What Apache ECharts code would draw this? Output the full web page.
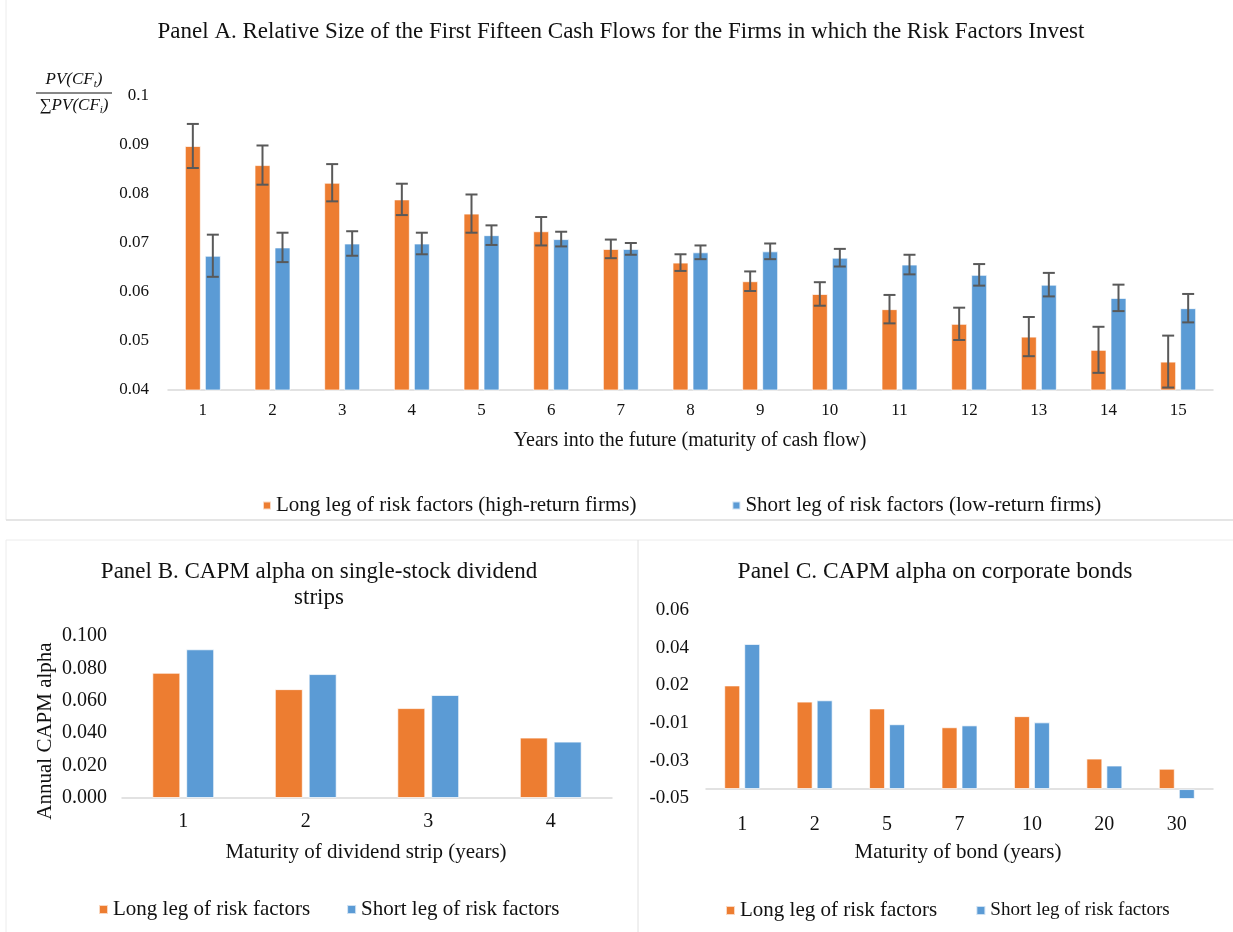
<!DOCTYPE html>
<html>
<head>
<meta charset="utf-8">
<script src="https://cdn.jsdelivr.net/npm/echarts@6/dist/echarts.min.js"></script>
<style>
html,body{margin:0;padding:0;background:#fff;}
#chart{width:1233px;height:932px;}
</style>
</head>
<body>
<div id="chart"></div>
<script>
// ---------- Panel A data ----------
const aCategories = ['1','2','3','4','5','6','7','8','9','10','11','12','13','14','15'];
const aLong = [0.0898,0.0859,0.0823,0.0789,0.0760,0.0724,0.0688,0.0660,0.0622,0.0596,0.0565,0.0535,0.0509,0.0482,0.0458];
const aLongErr = [0.0045,0.0040,0.0038,0.0032,0.0039,0.0029,0.0019,0.0017,0.0020,0.0024,0.0029,0.0033,0.0040,0.0047,0.0053];
const aShort = [0.0674,0.0691,0.0699,0.0699,0.0716,0.0708,0.0688,0.0681,0.0683,0.0670,0.0656,0.0635,0.0615,0.0588,0.0567];
const aShortErr = [0.0043,0.0030,0.0025,0.0022,0.0020,0.0015,0.0012,0.0014,0.0016,0.0018,0.0020,0.0022,0.0024,0.0027,0.0029];

// ---------- Panel B data ----------
const bCategories = ['1','2','3','4'];
const bLong = [0.0773,0.0672,0.0555,0.0373];
const bShort = [0.0918,0.0765,0.0636,0.0348];

// ---------- Panel C data ----------
const cCategories = ['1','2','5','7','10','20','30'];
const cLong = [0.0150,0.0064,0.0028,-0.0072,-0.0013,-0.0238,-0.0292];
const cShort = [0.0370,0.0071,-0.0056,-0.0062,-0.0046,-0.0275,-0.0460];
const cBase = -0.04; // horizontal axis crosses here (bars start from it)

const ORANGE = '#ED7D31';
const BLUE = '#5B9BD5';
const FONT = '"Liberation Serif", "Times New Roman", serif';
const TXT = '#111111';
const AXIS = '#d9d9d9';

function errRender(offset) {
  return function (params, api) {
    const i = api.value(0);
    const lo = api.coord([i, api.value(1)]);
    const hi = api.coord([i, api.value(2)]);
    const x = lo[0] + offset;
    const cap = 6;
    const st = { stroke: '#595959', lineWidth: 2 };
    return {
      type: 'group',
      children: [
        { type: 'line', shape: { x1: x, y1: lo[1], x2: x, y2: hi[1] }, style: st },
        { type: 'line', shape: { x1: x - cap, y1: lo[1], x2: x + cap, y2: lo[1] }, style: st },
        { type: 'line', shape: { x1: x - cap, y1: hi[1], x2: x + cap, y2: hi[1] }, style: st }
      ]
    };
  };
}

function cLabel(v) {
  const a = v + cBase;
  const r = Math.sign(a) * Math.round(Math.abs(a) * 100 + 1e-6) / 100;
  return r.toFixed(2);
}

const barBorder = { borderColor: 'rgba(255,255,255,0.7)', borderWidth: 1 };

const chart = echarts.init(document.getElementById('chart'), null, { renderer: 'canvas' });

const option = {
  backgroundColor: '#fff',
  animation: false,
  textStyle: { fontFamily: FONT, color: TXT },
  grid: [
    { left: 168, top: 96, width: 1045, height: 294 },
    { left: 122, top: 636, width: 490, height: 162 },
    { left: 706, top: 610, width: 507, height: 188.5 }
  ],
  xAxis: [
    { gridIndex: 0, type: 'category', data: aCategories,
      axisLine: { lineStyle: { color: AXIS, width: 1.5 } }, axisTick: { show: false },
      axisLabel: { color: TXT, fontFamily: FONT, fontSize: 17, margin: 12 } },
    { gridIndex: 1, type: 'category', data: bCategories,
      axisLine: { lineStyle: { color: AXIS, width: 1.5 } }, axisTick: { show: false },
      axisLabel: { color: TXT, fontFamily: FONT, fontSize: 20, margin: 14 } },
    { gridIndex: 2, type: 'category', data: cCategories,
      axisLine: { onZero: true, lineStyle: { color: AXIS, width: 1.5 } }, axisTick: { show: false },
      axisLabel: { color: TXT, fontFamily: FONT, fontSize: 20, margin: 16 } }
  ],
  yAxis: [
    { gridIndex: 0, type: 'value', min: 0.04, max: 0.1, interval: 0.01,
      splitLine: { show: false }, axisLine: { show: false }, axisTick: { show: false },
      axisLabel: { color: TXT, fontFamily: FONT, fontSize: 17, margin: 19,
        formatter: v => String(Math.round(v * 100) / 100) } },
    { gridIndex: 1, type: 'value', min: 0, max: 0.1, interval: 0.02,
      splitLine: { show: false }, axisLine: { show: false }, axisTick: { show: false },
      axisLabel: { color: TXT, fontFamily: FONT, fontSize: 20, margin: 15,
        formatter: v => v.toFixed(3) } },
    { gridIndex: 2, type: 'value', min: -0.045 - cBase, max: 0.055 - cBase, interval: 0.02,
      splitLine: { show: false }, axisLine: { show: false }, axisTick: { show: false },
      axisLabel: { color: TXT, fontFamily: FONT, fontSize: 19, margin: 17, formatter: cLabel } }
  ],
  legend: [
    { left: 257, top: 490, itemWidth: 8, itemHeight: 8, itemGap: 95, icon: 'rect',
      textStyle: { fontFamily: FONT, fontSize: 21, color: TXT },
      data: ['Long leg of risk factors (high-return firms)', 'Short leg of risk factors (low-return firms)'] },
    { left: 93, top: 894, itemWidth: 9, itemHeight: 9, itemGap: 36, icon: 'rect',
      textStyle: { fontFamily: FONT, fontSize: 21, color: TXT },
      data: ['Long leg of risk factors', 'Short leg of risk factors'] },
    { left: 720, top: 895, itemWidth: 9, itemHeight: 9, itemGap: 33, icon: 'rect',
      textStyle: { fontFamily: FONT, fontSize: 21, color: TXT },
      data: [{ name: 'Long leg of risk factors ' },
             { name: 'Short leg of risk factors ', textStyle: { fontSize: 19 } }] }
  ],
  series: [
    { name: 'Long leg of risk factors (high-return firms)', type: 'bar', xAxisIndex: 0, yAxisIndex: 0,
      data: aLong, barWidth: 16, barGap: '25%', itemStyle: Object.assign({ color: ORANGE }, barBorder) },
    { name: 'Short leg of risk factors (low-return firms)', type: 'bar', xAxisIndex: 0, yAxisIndex: 0,
      data: aShort, barWidth: 16, barGap: '25%', itemStyle: Object.assign({ color: BLUE }, barBorder) },
    { name: 'errLong', type: 'custom', xAxisIndex: 0, yAxisIndex: 0, z: 5,
      renderItem: errRender(-10), encode: { x: 0, y: [1, 2] },
      data: aLong.map((v, i) => [i, v - aLongErr[i], v + aLongErr[i]]) },
    { name: 'errShort', type: 'custom', xAxisIndex: 0, yAxisIndex: 0, z: 5,
      renderItem: errRender(10), encode: { x: 0, y: [1, 2] },
      data: aShort.map((v, i) => [i, v - aShortErr[i], v + aShortErr[i]]) },

    { name: 'Long leg of risk factors', type: 'bar', xAxisIndex: 1, yAxisIndex: 1,
      data: bLong, barWidth: 28, barGap: '21%', itemStyle: Object.assign({ color: ORANGE }, barBorder) },
    { name: 'Short leg of risk factors', type: 'bar', xAxisIndex: 1, yAxisIndex: 1,
      data: bShort, barWidth: 28, barGap: '21%', itemStyle: Object.assign({ color: BLUE }, barBorder) },

    { name: 'Long leg of risk factors ', type: 'bar', xAxisIndex: 2, yAxisIndex: 2,
      data: cLong.map(v => v - cBase), barWidth: 16, barGap: '25%', itemStyle: Object.assign({ color: ORANGE }, barBorder) },
    { name: 'Short leg of risk factors ', type: 'bar', xAxisIndex: 2, yAxisIndex: 2,
      data: cShort.map(v => v - cBase), barWidth: 16, barGap: '25%', itemStyle: Object.assign({ color: BLUE }, barBorder) }
  ],
  graphic: [
    // frame lines
    { type: 'line', shape: { x1: 6, y1: 0, x2: 6, y2: 520 }, style: { stroke: '#ececec', lineWidth: 1 } },
    { type: 'line', shape: { x1: 6, y1: 520, x2: 1233, y2: 520 }, style: { stroke: '#dcdcdc', lineWidth: 1.5 } },
    { type: 'line', shape: { x1: 6, y1: 540, x2: 1233, y2: 540 }, style: { stroke: '#ececec', lineWidth: 1 } },
    { type: 'line', shape: { x1: 6, y1: 540, x2: 6, y2: 932 }, style: { stroke: '#ececec', lineWidth: 1 } },
    { type: 'line', shape: { x1: 638, y1: 540, x2: 638, y2: 932 }, style: { stroke: '#e0e0e0', lineWidth: 1 } },
    // titles
    { type: 'text', x: 621, y: 32, style: { text: 'Panel A. Relative Size of the First Fifteen Cash Flows for the Firms in which the Risk Factors Invest',
      font: '23px ' + FONT, fill: TXT, textAlign: 'center', textVerticalAlign: 'middle' } },
    { type: 'text', x: 319, y: 572, style: { text: 'Panel B. CAPM alpha on single-stock dividend',
      font: '23px ' + FONT, fill: TXT, textAlign: 'center', textVerticalAlign: 'middle' } },
    { type: 'text', x: 319, y: 598, style: { text: 'strips',
      font: '23px ' + FONT, fill: TXT, textAlign: 'center', textVerticalAlign: 'middle' } },
    { type: 'text', x: 935, y: 572, style: { text: 'Panel C. CAPM alpha on corporate bonds',
      font: '23.5px ' + FONT, fill: TXT, textAlign: 'center', textVerticalAlign: 'middle' } },
    // axis titles
    { type: 'text', x: 690, y: 441, style: { text: 'Years into the future (maturity of cash flow)',
      font: '20px ' + FONT, fill: TXT, textAlign: 'center', textVerticalAlign: 'middle' } },
    { type: 'text', x: 366, y: 852, style: { text: 'Maturity of dividend strip (years)',
      font: '21px ' + FONT, fill: TXT, textAlign: 'center', textVerticalAlign: 'middle' } },
    { type: 'text', x: 958, y: 852, style: { text: 'Maturity of bond (years)',
      font: '21px ' + FONT, fill: TXT, textAlign: 'center', textVerticalAlign: 'middle' } },
    { type: 'text', x: 45, y: 731, rotation: Math.PI / 2, style: { text: 'Annual CAPM alpha',
      font: '21px ' + FONT, fill: TXT, textAlign: 'center', textVerticalAlign: 'middle' } },
    // fraction y-axis label for Panel A
    { type: 'text', x: 74, y: 80, style: {
      text: '{i|PV(CF}{s|t}{i|)}', textAlign: 'center', textVerticalAlign: 'middle',
      rich: { i: { font: 'italic 17px ' + FONT, fill: TXT }, s: { font: 'italic 11px ' + FONT, fill: TXT, padding: [8, 0, 0, 0] } } } },
    { type: 'line', shape: { x1: 36, y1: 93, x2: 112, y2: 93 }, style: { stroke: TXT, lineWidth: 1 } },
    { type: 'text', x: 74, y: 106, style: {
      text: '{n|∑}{i|PV(CF}{s|i}{i|)}', textAlign: 'center', textVerticalAlign: 'middle',
      rich: { n: { font: '17px ' + FONT, fill: TXT }, i: { font: 'italic 17px ' + FONT, fill: TXT }, s: { font: 'italic 11px ' + FONT, fill: TXT, padding: [8, 0, 0, 0] } } } }
  ]
};

chart.setOption(option);
</script>
</body>
</html>
